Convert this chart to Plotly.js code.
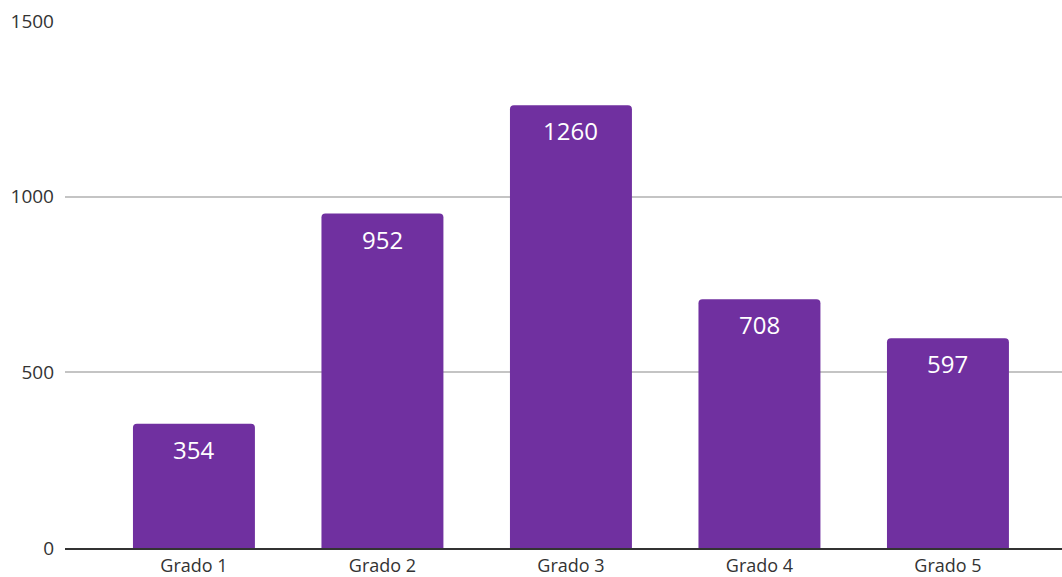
<!DOCTYPE html>
<html><head><meta charset="utf-8">
<script src="https://cdn.plot.ly/plotly-3.0.1.min.js"></script>
<style>html,body{margin:0;padding:0;background:#fff}#chart{width:1062px;height:577px}</style>
</head><body><div id="chart"></div>
<script>
const categories = ["Grado 1", "Grado 2", "Grado 3", "Grado 4", "Grado 5"];
const values = [354, 952, 1260, 708, 597];
const yTicks = [0, 500, 1000, 1500];

const barColor = "#7030A0";
const fontFam = "Open Sans, Noto Sans, sans-serif";

const trace = {
  type: "bar",
  x: categories,
  y: values,
  marker: {color: barColor, cornerradius: 4},
  width: 0.647,
  hoverinfo: "none"
};

const annotations = categories.map((c, i) => ({
  x: c, y: values[i], xref: "x", yref: "y",
  text: String(values[i]), showarrow: false,
  yanchor: "top", yshift: -7,
  font: {family: fontFam, size: 24, color: "#ffffff"}
}));

const layout = {
  width: 1062, height: 577,
  margin: {l: 65, r: 0, t: 21, b: 29},
  paper_bgcolor: "#ffffff", plot_bgcolor: "#ffffff",
  showlegend: false,
  font: {family: fontFam, size: 19, color: "#333333"},
  xaxis: {
    type: "category",
    range: [-0.684, 4.605],
    showgrid: false, zeroline: false,
    showline: true, linecolor: "#333333", linewidth: 2,
    ticks: "", ticklabelstandoff: 0,
    tickfont: {size: 18, color: "#333333"}
  },
  yaxis: {
    range: [0, 1500],
    tickvals: yTicks, ticktext: yTicks.map(String),
    showgrid: true, gridcolor: "#c4c4c4", gridwidth: 2,
    zeroline: false, showline: false, ticks: "",
    ticklabelstandoff: 10,
    tickfont: {size: 19, color: "#333333"}
  },
  annotations: annotations
};

Plotly.newPlot("chart", [trace], layout, {displayModeBar: false, staticPlot: true});
</script></body></html>
